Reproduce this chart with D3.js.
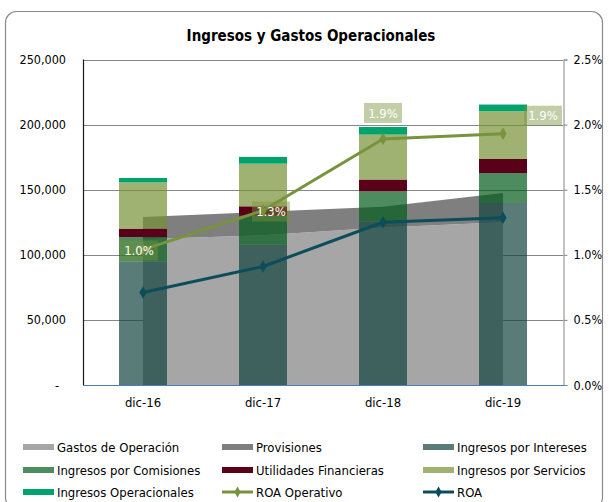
<!DOCTYPE html>
<html>
<head>
<meta charset="utf-8">
<script src="https://cdn.jsdelivr.net/npm/d3@7"></script>
<style>
  html, body { margin: 0; padding: 0; background: #fff; }
  svg text { font-family: "DejaVu Sans Condensed", "DejaVu Sans", sans-serif; fill: #000; }
</style>
</head>
<body>
<svg id="chart" width="609" height="502"></svg>
<script>
// ---------- DATA ----------
const categories = ["dic-16", "dic-17", "dic-18", "dic-19"];
const gastosOperacion = [112000, 115000, 121000, 125000];
const provisiones = [17000, 18000, 16000, 22500];
const ingresosIntereses = [95000, 107700, 125600, 139800];
const ingresosComisiones = [18600, 22300, 23100, 23000];
const utilidadesFinancieras = [6400, 7200, 9000, 10800];
const ingresosServicios = [35600, 32800, 34600, 36700];
const ingresosOperacionales = [3400, 5200, 5900, 5100];
const roaOperativo = [1.04, 1.34, 1.89, 1.93]; // %
const roa = [0.71, 0.91, 1.25, 1.285];         // %
const leftTicks = [0, 50000, 100000, 150000, 200000, 250000];
const rightTicks = [0, 0.5, 1.0, 1.5, 2.0, 2.5];
const title = "Ingresos y Gastos Operacionales";

// ---------- LAYOUT ----------
const svg = d3.select("#chart");
const L = 83, R = 563, T = 59.5, B = 385;

const x = d3.scaleBand().domain(categories).range([L, R]).paddingInner(0.6).paddingOuter(0.3);
const cx = c => x(c) + x.bandwidth() / 2;
const y = d3.scaleLinear().domain([0, 250000]).range([B, T]);
const y2 = d3.scaleLinear().domain([0, 2.5]).range([B, T]);

// border
svg.append("rect").attr("x", 5.5).attr("y", 11.5).attr("width", 597).attr("height", 497)
  .attr("rx", 11).attr("fill", "#fff").attr("stroke", "#8a8a8a").attr("stroke-width", 1.2);

// title
svg.append("text").attr("x", 311).attr("y", 41).attr("text-anchor", "middle")
  .style("font-size", "15px").style("font-weight", "bold").text(title);

// gridlines
svg.append("g").selectAll("line").data(leftTicks.filter(d => d > 0)).join("line")
  .attr("x1", L).attr("x2", R).attr("y1", d => Math.round(y(d)) + 0.5).attr("y2", d => Math.round(y(d)) + 0.5)
  .attr("stroke", "#868686").attr("stroke-width", 1);

// ---------- AREAS ----------
const areaRows = categories.map((c, i) => ({ cat: c, gastos: gastosOperacion[i], prov: provisiones[i] }));
const areaStack = d3.stack().keys(["gastos", "prov"])(areaRows);
const areaColors = { gastos: "#a6a6a6", prov: "#7f7f7f" };
const areaGen = d3.area().x(d => cx(d.data.cat)).y0(d => y(d[0])).y1(d => y(d[1]));
svg.append("g").selectAll("path").data(areaStack).join("path")
  .attr("d", areaGen).attr("fill", d => areaColors[d.key]);

// ---------- BARS ----------
const barKeys = ["intereses", "comisiones", "utilidades", "servicios", "operacionales"];
const barRows = categories.map((c, i) => ({
  cat: c, intereses: ingresosIntereses[i], comisiones: ingresosComisiones[i],
  utilidades: utilidadesFinancieras[i], servicios: ingresosServicios[i], operacionales: ingresosOperacionales[i]
}));
const barStack = d3.stack().keys(barKeys)(barRows);
const barStyle = {
  intereses: { fill: "#13453e", op: 0.7 },
  comisiones: { fill: "#005b1a", op: 0.7 },
  utilidades: { fill: "#5a0018", op: 1 },
  servicios: { fill: "#779136", op: 0.7 },
  operacionales: { fill: "#00a36c", op: 1 }
};
svg.append("g").selectAll("g").data(barStack).join("g")
  .attr("fill", d => barStyle[d.key].fill).attr("fill-opacity", d => barStyle[d.key].op)
  .selectAll("rect").data(d => d).join("rect")
  .attr("x", d => x(d.data.cat)).attr("width", x.bandwidth())
  .attr("y", d => y(d[1])).attr("height", d => y(d[0]) - y(d[1]));

// ---------- AXES ----------
// left axis line
svg.append("line").attr("x1", L + 0.5).attr("x2", L + 0.5).attr("y1", T).attr("y2", B)
  .attr("stroke", "#1a1a1a").attr("stroke-width", 1.2);
// right axis
const rightAxis = d3.axisRight(y2).tickValues(rightTicks).tickSize(4).tickPadding(6)
  .tickFormat(d => d.toFixed(1) + "%");
const ra = svg.append("g").attr("transform", `translate(${R + 0.5},0)`).call(rightAxis);
ra.select(".domain").attr("stroke", "#868686");
ra.selectAll(".tick line").attr("stroke", "#868686");
ra.selectAll(".tick text").style("font-size", "12.5px").style("font-family", "DejaVu Sans Condensed, DejaVu Sans").attr("fill", "#000");
// left labels
const leftAxis = d3.axisLeft(y).tickValues(leftTicks).tickSize(0).tickPadding(17)
  .tickFormat(d => d === 0 ? "-" : d3.format(",")(d));
const la = svg.append("g").attr("transform", `translate(${L},0)`).call(leftAxis);
la.select(".domain").remove();
la.selectAll(".tick text").style("font-size", "12.5px").style("font-family", "DejaVu Sans Condensed, DejaVu Sans").attr("fill", "#000");
la.selectAll(".tick text").filter(d => d === 0).attr("x", -26).attr("text-anchor", "middle");
// baseline
svg.append("line").attr("x1", L).attr("x2", R + 1).attr("y1", B + 0.5).attr("y2", B + 0.5)
  .attr("stroke", "#4a7ebb").attr("stroke-width", 1);
// category labels
const xAxis = d3.axisBottom(x).tickSize(0).tickPadding(13);
const xa = svg.append("g").attr("transform", `translate(0,${B})`).call(xAxis);
xa.select(".domain").remove();
xa.selectAll(".tick text").style("font-size", "13px").style("font-family", "DejaVu Sans Condensed, DejaVu Sans").attr("fill", "#000");

// ---------- LINES ----------
const lineSeries = [
  { key: "roaOp", values: roaOperativo, color: "#77933c" },
  { key: "roa", values: roa, color: "#0b4d5a" }
];
const lineGen = d3.line().x((d, i) => cx(categories[i])).y(d => y2(d));
const diamond = d3.symbol().type(d3.symbolDiamond).size(45);
lineSeries.forEach(s => {
  svg.append("path").attr("d", lineGen(s.values)).attr("fill", "none")
    .attr("stroke", s.color).attr("stroke-width", 3).attr("stroke-linejoin", "round");
  svg.append("g").selectAll("path").data(s.values).join("path")
    .attr("d", diamond).attr("fill", s.color)
    .attr("transform", (d, i) => `translate(${cx(categories[i])},${y2(d)})`);
});

// data labels for ROA Operativo
const labelShift = [[-4, 1], [8, 1], [0, -26], [40, -18]];
const lbl = svg.append("g").selectAll("g").data(roaOperativo).join("g")
  .attr("transform", (d, i) => `translate(${cx(categories[i]) + labelShift[i][0]},${y2(d) + labelShift[i][1]})`);
lbl.append("rect").attr("x", -19).attr("y", -10).attr("width", 38).attr("height", 20)
  .attr("fill", "#77933c").attr("fill-opacity", 0.45);
lbl.append("text").attr("text-anchor", "middle").attr("dy", "0.36em")
  .style("font-size", "13px").attr("fill", "#fff").style("fill", "#fff")
  .text(d => d.toFixed(1) + "%");

// ---------- LEGEND ----------
const legendItems = [
  { name: "Gastos de Operación", type: "rect", color: "#a6a6a6", op: 1 },
  { name: "Provisiones", type: "rect", color: "#7f7f7f", op: 1 },
  { name: "Ingresos por Intereses", type: "rect", color: barStyle.intereses.fill, op: 0.7 },
  { name: "Ingresos por Comisiones", type: "rect", color: barStyle.comisiones.fill, op: 0.7 },
  { name: "Utilidades Financieras", type: "rect", color: barStyle.utilidades.fill, op: 1 },
  { name: "Ingresos por Servicios", type: "rect", color: barStyle.servicios.fill, op: 0.7 },
  { name: "Ingresos Operacionales", type: "rect", color: barStyle.operacionales.fill, op: 1 },
  { name: "ROA Operativo", type: "line", color: "#77933c", op: 1 },
  { name: "ROA", type: "line", color: "#0b4d5a", op: 1 }
];
const colX = [23, 222, 423];
const rowY = [447, 470, 492];
const lg = svg.append("g").selectAll("g").data(legendItems).join("g")
  .attr("transform", (d, i) => `translate(${colX[i % 3]},${rowY[Math.floor(i / 3)]})`);
lg.filter(d => d.type === "rect").append("rect").attr("x", 0).attr("y", -3).attr("width", 31).attr("height", 6)
  .attr("fill", d => d.color).attr("fill-opacity", d => d.op);
lg.filter(d => d.type === "line").append("line").attr("x1", 0).attr("x2", 31).attr("y1", 0).attr("y2", 0)
  .attr("stroke", d => d.color).attr("stroke-width", 3);
lg.filter(d => d.type === "line").append("path").attr("d", d3.symbol().type(d3.symbolDiamond).size(35))
  .attr("transform", "translate(15.5,0)").attr("fill", d => d.color);
lg.append("text").attr("x", 34).attr("dy", "0.35em").style("font-size", "13px").text(d => d.name);
</script>
</body>
</html>
